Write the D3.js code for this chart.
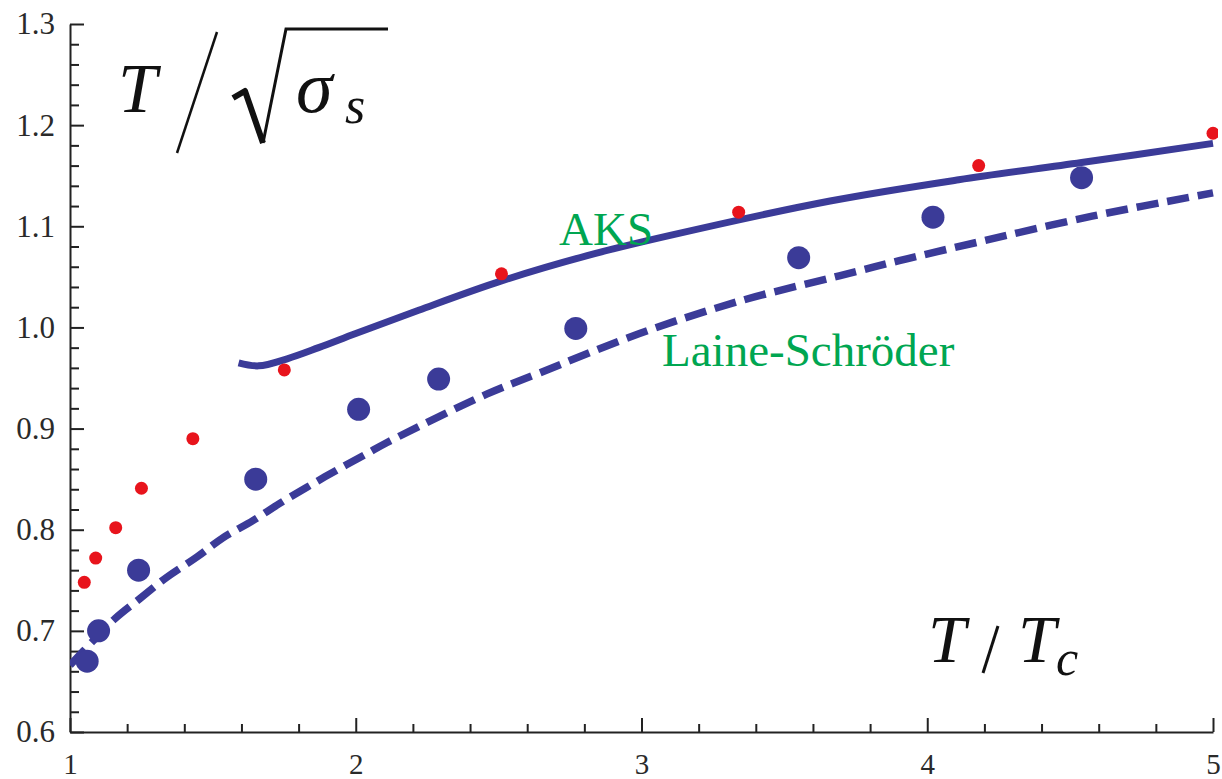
<!DOCTYPE html>
<html>
<head>
<meta charset="utf-8">
<script src="https://cdn.jsdelivr.net/npm/d3@7"></script>
<style>
  html, body { margin: 0; padding: 0; background: #fff; }
  svg { display: block; }
  .axis path, .axis line { stroke: #222; stroke-width: 2; }
</style>
</head>
<body>
<div id="chart-area"></div>
<script>
// tick labels
let xTicks = [1, 2, 3, 4, 5]
let yTicks = [0.6, 0.7, 0.8, 0.9, 1.0, 1.1, 1.2, 1.3]

// big blue dots
let blueT = [1.06, 1.10, 1.24, 1.65, 2.01, 2.29, 2.77, 3.55, 4.02, 4.54]
let blueV = [0.670, 0.700, 0.760, 0.850, 0.919, 0.949, 0.999, 1.069, 1.109, 1.148]

// small red dots
let redT = [1.05, 1.09, 1.16, 1.25, 1.43, 1.75, 2.51, 3.34, 4.18, 5.00]
let redV = [0.748, 0.772, 0.802, 0.841, 0.890, 0.958, 1.053, 1.114, 1.160, 1.192]

// AKS curve (solid)
let aksT = [1.59, 1.66, 1.76, 1.87, 2.00, 2.22, 2.51, 2.81, 3.10, 3.66, 4.11, 4.54, 5.00]
let aksV = [0.965, 0.962, 0.969, 0.980, 0.994, 1.017, 1.046, 1.071, 1.091, 1.125, 1.146, 1.163, 1.182]

// Laine-Schroeder curve (dashed)
let lsT = [1.00, 1.077, 1.157, 1.245, 1.339, 1.444, 1.535, 1.640, 1.734, 1.829, 1.934, 2.038, 2.108,
  2.458, 2.643, 2.993, 3.343, 3.692, 3.902, 4.157, 4.577, 5.00]
let lsV = [0.666, 0.689, 0.712, 0.732, 0.753, 0.773, 0.792, 0.809, 0.826, 0.842, 0.859, 0.875, 0.886,
  0.934, 0.955, 0.994, 1.026, 1.051, 1.066, 1.083, 1.110, 1.133]

let svgW = 1222;
let svgH = 779;

let blue = "#3b3b98";
let red = "#e8141c";
let green = "#00a651";
let serif = "'Liberation Serif', Tinos, 'Times New Roman', 'DejaVu Serif', 'Noto Serif', serif";

let x = d3.scaleLinear().domain([1, 5]).range([70, 1213])
let y = d3.scaleLinear().domain([0.6, 1.3]).range([732, 24])

let svg = d3.select("#chart-area")
  .append("svg")
  .attr("width", svgW)
  .attr("height", svgH)

svg.append("clipPath").attr("id", "plot")
  .append("rect")
  .attr("x", 70).attr("y", 0)
  .attr("width", 1148).attr("height", 733)

// axes, ticks point inward
let xMinor = x.ticks(20).filter(v => !xTicks.some(t => Math.abs(t - v) < 1e-6))
let yMinor = y.ticks(35).filter(v => !yTicks.some(t => Math.abs(t - v) < 1e-6))

let gx = svg.append("g").attr("class", "x axis").attr("transform", `translate(0,${y(0.6)})`)
gx.call(d3.axisBottom(x).tickValues(xTicks).tickFormat(d3.format("d"))
  .tickSizeInner(-14).tickSizeOuter(0).tickPadding(21))
gx.append("g").call(d3.axisBottom(x).tickValues(xMinor).tickFormat("")
  .tickSizeInner(-8).tickSizeOuter(0))
  .select(".domain").remove()

let gy = svg.append("g").attr("class", "y axis").attr("transform", `translate(${x(1)},0)`)
gy.call(d3.axisLeft(y).tickValues(yTicks).tickFormat(d3.format(".1f"))
  .tickSizeInner(-14).tickSizeOuter(0).tickPadding(15))
gy.append("g").call(d3.axisLeft(y).tickValues(yMinor).tickFormat("")
  .tickSizeInner(-9).tickSizeOuter(0))
  .select(".domain").remove()

gx.attr("font-family", serif).attr("font-size", 29)
gy.attr("font-family", serif).attr("font-size", 31)
svg.selectAll(".axis .tick text").attr("fill", "#2a2a2a")

// curves
let plot = svg.append("g").attr("clip-path", "url(#plot)")

let line = d3.line()
  .x(d => x(d[0]))
  .y(d => y(d[1]))
  .curve(d3.curveCatmullRom)

plot.append("path")
  .attr("d", line(d3.zip(lsT, lsV)))
  .attr("fill", "none")
  .attr("stroke", blue)
  .attr("stroke-width", 7.5)
  .attr("stroke-dasharray", "22,9")

plot.append("path")
  .attr("d", line(d3.zip(aksT, aksV)))
  .attr("fill", "none")
  .attr("stroke", blue)
  .attr("stroke-width", 7)

plot.selectAll(".blue")
  .data(d3.zip(blueT, blueV))
  .enter()
  .append("circle")
  .attr("class", "blue")
  .attr("cx", d => x(d[0]))
  .attr("cy", d => y(d[1]))
  .attr("r", 11.5)
  .attr("fill", blue)

plot.selectAll(".red")
  .data(d3.zip(redT, redV))
  .enter()
  .append("circle")
  .attr("class", "red")
  .attr("cx", d => x(d[0]))
  .attr("cy", d => y(d[1]))
  .attr("r", 6.5)
  .attr("fill", red)

// curve labels
let lbl = (px, py, s) => svg.append("text")
  .attr("x", px).attr("y", py)
  .attr("font-family", serif).attr("font-size", 47)
  .attr("fill", green)
  .text(s)

lbl(559, 245, "AKS")
lbl(662, 366, "Laine-Schröder")

let math = (px, py, size, s) => svg.append("text")
  .attr("x", px).attr("y", py)
  .attr("font-family", serif).attr("font-style", "italic")
  .attr("font-size", size)
  .attr("fill", "#111")
  .text(s)

// y label: T / sqrt(sigma_s)
math(118, 112, 70, "T")
svg.append("line").attr("x1", 177).attr("y1", 153).attr("x2", 217).attr("y2", 32)
  .attr("stroke", "#111").attr("stroke-width", 2.5)
svg.append("path")
  .attr("d", "M233,98 L245,91 L263,143")
  .attr("fill", "none").attr("stroke", "#111").attr("stroke-width", 6).attr("stroke-linejoin", "round")
svg.append("path")
  .attr("d", "M263,143 L286,29 L388,29")
  .attr("fill", "none").attr("stroke", "#111").attr("stroke-width", 3)
math(296, 112, 74, "σ")
math(345, 123, 52, "s")

// x label: T / T_c
math(928, 662, 68, "T")
svg.append("line").attr("x1", 983).attr("y1", 673).attr("x2", 998).attr("y2", 626)
  .attr("stroke", "#111").attr("stroke-width", 3)
math(1018, 662, 68, "T")
math(1056, 675, 50, "c")
</script>
</body>
</html>
